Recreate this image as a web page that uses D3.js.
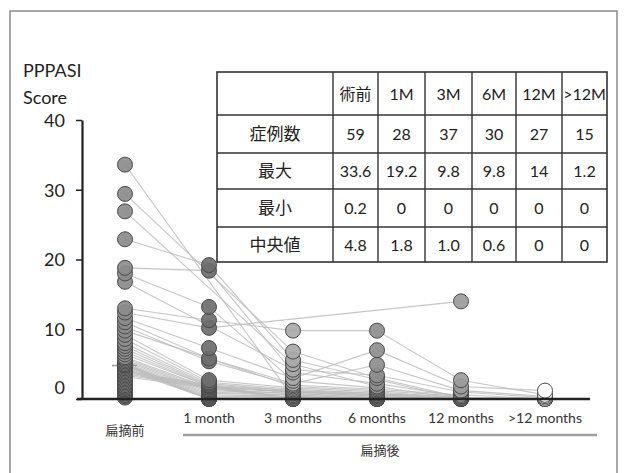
<!DOCTYPE html>
<html>
<head>
<meta charset="utf-8">
<script src="https://cdn.jsdelivr.net/npm/d3@7"></script>
<style>
  body { margin: 0; background: #fff; }
  svg { display: block; font-family: Lato, "Noto Sans CJK JP", sans-serif; }
</style>
</head>
<body>
<div id="chart"></div>
<script>
const width = 624,
    height = 473;

// time points on the x axis
const categories = ["扁摘前", "1 month", "3 months", "6 months", "12 months", ">12 months"];

// PPPASI score of each patient (same index = same patient), null = not measured
const preop = [33.6, 29.4, 26.9, 22.9, 18.8, 18.0, 16.8, 13.0, 12.4, 11.6, 11.0, 10.4, 9.8, 9.2, 8.6, 8.0, 7.6, 7.2, 6.8, 6.4,
    6.0, 5.8, 5.6, 5.4, 5.2, 5.0, 5.0, 4.9, 4.8, 4.8, 4.6, 4.4, 4.2, 4.0, 3.8, 3.6, 3.4, 3.2, 3.0, 2.8,
    2.6, 2.4, 2.2, 2.0, 1.8, 1.8, 1.6, 1.6, 1.4, 1.4, 1.2, 1.2, 1.0, 1.0, 0.8, 0.6, 0.6, 0.4, 0.2];
const month1 = [null, null, null, 19.2, 18.4, 13.2, null, 11.3, 10.2, 7.3, 5.8, 5.4, null, 2.7, 2.4, 2.2, 2.0, 1.9, 1.8, 1.8,
    1.6, 1.4, 1.2, 1.0, 0.8, 0.6, 0.4, 0.2, 0, 0, 0, 0, 0];
const month3 = [0.2, 6.8, 5.0, 5.6, 3.8, 2.6, 4.2, 9.8, null, 3.0, 2.2, 2.0, 1.8, 1.6, 1.4, 1.2, 1.2, 1.0, 1.0, 1.0,
    1.0, 0.8, 0.8, 0.6, 0.6, 0.4, 0.4, 0.4, 0.2, 0.2, 0, 0, 0, 0, 0, 0, 0, 0];
const month6 = [0, 3.0, 1.8, null, 2.2, 1.6, 3.4, 9.8, null, 7.0, 4.9, 1.4, 1.2, 1.0, 0.8, 0.8, 0.6, 0.6, 0.6, 0.4,
    0.4, 0.2, 0.2, 0, 0, 0, 0, 0, 0, 0, 0, 0];
const month12 = [0, 0.2, 0, 0, 0.4, null, 1.0, 2.7, 14, 1.8, 1.2, 0.6, 0.4, 0.2, 0.2, 0, 0, 0, 0, 0,
    0, 0, 0, 0, 0, 0, 0, 0];
const over12 = [null, 0, null, 0, null, null, 0.2, 0.6, null, 1.2, 0.4, 0, null, 0, null, 0, null, 0, null, 0,
    null, 0, null, 0, null, 0, 0];

// summary table
const tableHeader = ["", "術前", "1M", "3M", "6M", "12M", ">12M"];
const tableRowLabels = ["症例数", "最大", "最小", "中央値"];
const tableCases = ["59", "28", "37", "30", "27", "15"];
const tableMax = ["33.6", "19.2", "9.8", "9.8", "14", "1.2"];
const tableMin = ["0.2", "0", "0", "0", "0", "0"];
const tableMedian = ["4.8", "1.8", "1.0", "0.6", "0", "0"];

const series = [preop, month1, month3, month6, month12, over12];
const fills = ["#8b8b8b", "#6e6e6e", "#a9a9a9", "#8e8e8e", "#9b9b9b", "#ffffff"];

const svg = d3.select("#chart")
    .append("svg")
    .attr("width", width)
    .attr("height", height);

// slide frame
svg.append("rect")
    .attr("x", 10).attr("y", 11)
    .attr("width", 607).attr("height", 470)
    .attr("fill", "none")
    .attr("stroke", "#8a8a8a")
    .attr("stroke-width", 1.5);

const x = d3.scalePoint()
    .domain(categories)
    .range([125, 545]);

const y = d3.scaleLinear()
    .domain([0, 40])
    .range([399, 120]);

// one line per patient through the time points that were measured
const patients = preop.map((d, i) => series
    .map((s, j) => ({cat: categories[j], v: s[i]}))
    .filter(p => p.v !== null && p.v !== undefined));

const line = d3.line()
    .x(p => x(p.cat))
    .y(p => y(p.v));

svg.append("g")
    .selectAll("path")
    .data(patients.filter(p => p.length > 1))
    .join("path")
    .attr("d", line)
    .attr("fill", "none")
    .attr("stroke", "#bcbcbc")
    .attr("stroke-width", 1.1)
    .attr("stroke-opacity", 0.85);

// short median mark on the pre-op column
svg.append("line")
    .attr("x1", x(categories[0]) - 13).attr("x2", x(categories[0]) + 12)
    .attr("y1", y(d3.median(preop))).attr("y2", y(d3.median(preop)))
    .attr("stroke", "#9a9a9a")
    .attr("stroke-width", 1.5);

// dots
series.forEach(function(s, j){
    svg.append("g")
        .selectAll("circle")
        .data(s.filter(v => v !== null && v !== undefined).sort((a, b) => a - b))
        .join("circle")
        .attr("cx", x(categories[j]))
        .attr("cy", v => y(v))
        .attr("r", 7.5)
        .attr("fill", fills[j])
        .attr("fill-opacity", j == 5 ? 1 : 0.92)
        .attr("stroke", "#4a4a4a")
        .attr("stroke-width", 1);
});

// y axis
const yAxis = svg.append("g")
    .attr("transform", "translate(82,0)")
    .call(d3.axisLeft(y).tickValues([0, 10, 20, 30, 40]).tickSize(6).tickSizeOuter(0).tickPadding(11));
yAxis.select(".domain").attr("stroke", "#222").attr("stroke-width", 2.2);
yAxis.selectAll(".tick line").attr("stroke", "#222").attr("stroke-width", 1.5);
yAxis.selectAll(".tick text")
    .attr("font-size", 18)
    .attr("font-family", "Lato, sans-serif")
    .attr("fill", "#222")
    .attr("dy", d => d == 0 ? "-0.28em" : "0.35em");

// x axis line
svg.append("line")
    .attr("x1", 77).attr("x2", 590)
    .attr("y1", y(0)).attr("y2", y(0))
    .attr("stroke", "#222")
    .attr("stroke-width", 2.5);

// category labels
svg.append("g")
    .selectAll("text")
    .data(categories)
    .join("text")
    .attr("x", d => x(d))
    .attr("y", (d, i) => i == 0 ? 435 : 423)
    .attr("text-anchor", "middle")
    .attr("font-size", (d, i) => i == 0 ? 13 : 14)
    .attr("font-family", (d, i) => i == 0 ? "'Noto Sans CJK JP', sans-serif" : "Lato, sans-serif")
    .attr("fill", "#333")
    .text(d => d);

// post-op bracket
svg.append("line")
    .attr("x1", 183).attr("x2", 597)
    .attr("y1", 435).attr("y2", 435)
    .attr("stroke", "#a0a0a0")
    .attr("stroke-width", 2.5);
svg.append("text")
    .attr("x", 380).attr("y", 455)
    .attr("text-anchor", "middle")
    .attr("font-size", 13)
    .attr("font-family", "'Noto Sans CJK JP', sans-serif")
    .attr("fill", "#333")
    .text("扁摘後");

// y title
svg.append("text")
    .attr("x", 23).attr("y", 77)
    .attr("font-size", 18)
    .attr("fill", "#222")
    .text("PPPASI");
svg.append("text")
    .attr("x", 23).attr("y", 104)
    .attr("font-size", 18)
    .attr("fill", "#222")
    .text("Score");

// table
const colEdges = [217, 333, 378, 425, 472, 516, 562, 607];
const rowEdges = [72, 115, 153, 189, 227, 262];
const tableBody = [tableCases, tableMax, tableMin, tableMedian];

const table = svg.append("g");
table.append("rect")
    .attr("x", colEdges[0]).attr("y", rowEdges[0])
    .attr("width", colEdges[colEdges.length - 1] - colEdges[0])
    .attr("height", rowEdges[rowEdges.length - 1] - rowEdges[0])
    .attr("fill", "#fff")
    .attr("stroke", "#333")
    .attr("stroke-width", 1.6);
colEdges.slice(1, -1).forEach(function(cx){
    table.append("line")
        .attr("x1", cx).attr("x2", cx)
        .attr("y1", rowEdges[0]).attr("y2", rowEdges[rowEdges.length - 1])
        .attr("stroke", "#333").attr("stroke-width", 1.4);
});
rowEdges.slice(1, -1).forEach(function(ry){
    table.append("line")
        .attr("x1", colEdges[0]).attr("x2", colEdges[colEdges.length - 1])
        .attr("y1", ry).attr("y2", ry)
        .attr("stroke", "#333").attr("stroke-width", 1.4);
});

const cellX = i => (colEdges[i] + colEdges[i + 1]) / 2;
const cellY = r => (rowEdges[r] + rowEdges[r + 1]) / 2 + 6;

tableHeader.forEach(function(t, i){
    table.append("text")
        .attr("x", cellX(i)).attr("y", cellY(0))
        .attr("text-anchor", "middle")
        .attr("font-size", i == 1 ? 16 : 16)
        .attr("font-family", i == 1 ? "'Noto Sans CJK JP', sans-serif" : "Lato, sans-serif")
        .attr("fill", "#222")
        .text(t);
});
tableRowLabels.forEach(function(t, r){
    table.append("text")
        .attr("x", cellX(0)).attr("y", cellY(r + 1))
        .attr("text-anchor", "middle")
        .attr("font-size", 17)
        .attr("font-family", "'Noto Sans CJK JP', sans-serif")
        .attr("fill", "#222")
        .text(t);
    tableBody[r].forEach(function(v, i){
        table.append("text")
            .attr("x", cellX(i + 1)).attr("y", cellY(r + 1))
            .attr("text-anchor", "middle")
            .attr("font-size", 16)
            .attr("font-family", "Lato, sans-serif")
            .attr("fill", "#222")
            .text(v);
    });
});
</script>
</body>
</html>
